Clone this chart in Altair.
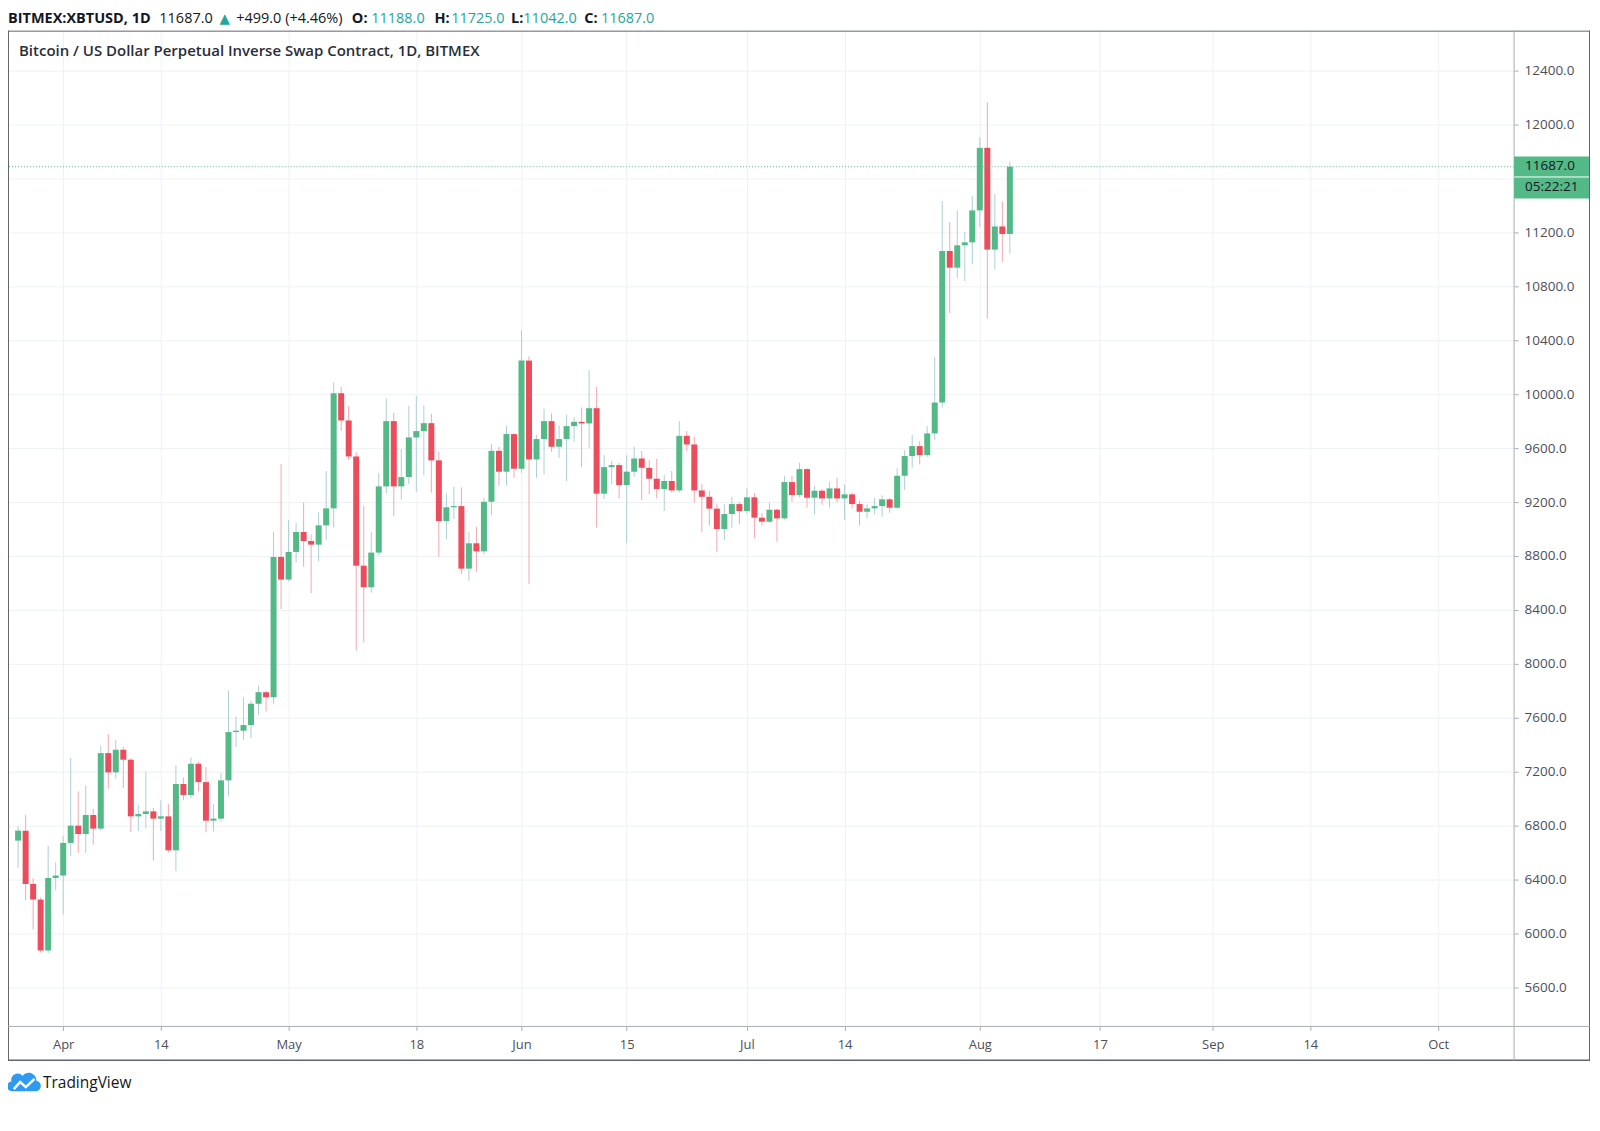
import altair as alt
import pandas as pd

# ---------------- data ----------------
start_date = "2020-03-26"

opens = [
    6689, 6763, 6368, 6252, 5874, 6412,
    6430, 6672, 6800, 6738, 6879, 6778, 7338, 7195, 7363, 7289,
    6869, 6886, 6906, 6852, 6869, 6617, 7109, 7027, 7259, 7123,
    6837, 6852, 7136, 7494, 7504, 7546, 7704, 7790, 7753, 8793,
    8625, 8830, 8978, 8911, 8884, 9027, 9153, 10007, 9805, 9538,
    8728, 8568, 8825, 9316, 9800, 9316, 9385, 9679, 9726, 9785,
    9509, 9059, 9161, 9170, 8706, 8894, 8834, 9202, 9580, 9425, 9704,
    9447, 10249, 9516, 9667, 9800, 9610, 9667, 9763, 9795, 9783,
    9896, 9262, 9459, 9474, 9326, 9425, 9523, 9454, 9373, 9296,
    9356, 9286, 9691, 9627, 9286, 9239, 9151, 9000, 9111, 9185,
    9133, 9235, 9084, 9054, 9143, 9079, 9348, 9252, 9444, 9232,
    9284, 9227, 9301, 9227, 9257, 9185, 9128, 9153, 9170, 9220,
    9158, 9395, 9541, 9615, 9548, 9709, 9938, 11062, 10938, 11104, 11126,
    11363, 11827, 11072, 11244, 11188,
]
closes = [
    6763, 6368, 6252, 5874, 6412, 6430,
    6672, 6800, 6738, 6879, 6778, 7338, 7195, 7363, 7289, 6869,
    6886, 6906, 6852, 6869, 6617, 7109, 7027, 7259, 7123, 6837,
    6852, 7136, 7494, 7504, 7546, 7704, 7790, 7753, 8793, 8625,
    8830, 8978, 8911, 8884, 9027, 9153, 10007, 9805, 9538, 8728,
    8568, 8825, 9316, 9800, 9316, 9385, 9679, 9726, 9785, 9509,
    9059, 9161, 9170, 8706, 8894, 8834, 9202, 9580, 9425, 9704, 9447,
    10249, 9516, 9667, 9800, 9610, 9667, 9763, 9795, 9783, 9896,
    9262, 9459, 9474, 9326, 9425, 9523, 9454, 9373, 9296, 9356,
    9286, 9691, 9627, 9286, 9239, 9151, 9000, 9111, 9185, 9133,
    9235, 9084, 9054, 9143, 9079, 9348, 9252, 9444, 9232, 9284,
    9227, 9301, 9227, 9257, 9185, 9128, 9153, 9170, 9220, 9158,
    9395, 9541, 9615, 9548, 9709, 9938, 11062, 10938, 11104, 11126, 11363,
    11827, 11072, 11244, 11188, 11687,
]
highs = [
    6795, 6881, 6410, 6270, 6652, 6528,
    6726, 7301, 7054, 7099, 6923, 7393, 7479, 7437, 7385, 7301,
    6956, 7202, 6930, 6988, 6960, 7247, 7158, 7306, 7275, 7235,
    6960, 7190, 7802, 7610, 7751, 7727, 7839, 7800, 8980, 9481,
    9067, 9045, 9198, 8960, 9124, 9430, 10086, 10054, 9911, 9570,
    9170, 8978, 9417, 9970, 9862, 9593, 9914, 9985, 9914, 9854,
    9573, 9264, 9314, 9309, 8980, 9017, 9232, 9630, 9610, 9763, 9710,
    10474, 10280, 9697, 9894, 9857, 9768, 9849, 9830, 9901, 10178,
    10054, 9548, 9504, 9490, 9548, 9610, 9578, 9510, 9520, 9400,
    9430, 9800, 9726, 9685, 9336, 9284, 9188, 9185, 9237, 9200,
    9301, 9267, 9120, 9195, 9150, 9393, 9395, 9491, 9450, 9320,
    9295, 9351, 9380, 9330, 9270, 9210, 9183, 9230, 9250, 9232,
    9449, 9585, 9696, 9652, 9763, 10276, 11432, 11277, 11363, 11202, 11469,
    11906, 12165, 11486, 11430, 11725,
]
lows = [
    6486, 6247, 6030, 5860, 5855, 6321,
    6141, 6573, 6598, 6598, 6659, 6765, 7074, 7148, 7079, 6753,
    6760, 6778, 6541, 6760, 6600, 6462, 6988, 7005, 7054, 6751,
    6758, 6830, 7022, 7383, 7437, 7450, 7623, 7647, 7701, 8407,
    8610, 8750, 8721, 8523, 8760, 8920, 9012, 9728, 9511, 8099,
    8158, 8528, 8805, 9264, 9099, 9217, 9333, 9277, 9398, 9269,
    8795, 8923, 9074, 8667, 8617, 8684, 8810, 9104, 9321, 9321, 9380,
    9417, 8593, 9380, 9405, 9573, 9528, 9356, 9647, 9462, 9602,
    9010, 9222, 9331, 9227, 8894, 9388, 9215, 9257, 9227, 9133,
    9270, 9270, 9578, 9195, 8975, 9025, 8830, 8919, 9010, 9035,
    9115, 8931, 9025, 9045, 8906, 9070, 9202, 9235, 9158, 9109,
    9180, 9158, 9200, 9067, 9153, 9025, 9080, 9108, 9091, 9121,
    9150, 9289, 9454, 9479, 9535, 9659, 9900, 10602, 10862, 10839, 10963,
    11240, 10561, 10926, 10980, 11042,
]

tick_dates = ["2020-04-01", "2020-04-14", "2020-05-01", "2020-05-18", "2020-06-01",
              "2020-06-15", "2020-07-01", "2020-07-14", "2020-08-01", "2020-08-17",
              "2020-09-01", "2020-09-14", "2020-10-01"]
tick_labels = ["Apr", "14", "May", "18", "Jun", "15", "Jul", "14", "Aug", "17",
               "Sep", "14", "Oct"]
y_ticks = [5600, 6000, 6400, 6800, 7200, 7600, 8000, 8400, 8800, 9200, 9600,
           10000, 10400, 10800, 11200, 11600, 12000, 12400]

symbol_text = "BITMEX:XBTUSD, 1D"
last_text = "11687.0"
change_text = "+499.0 (+4.46%)"
ohlc_labels = ["O:", "H:", "L:", "C:"]
ohlc_values = ["11188.0", "11725.0", "11042.0", "11687.0"]
title_text = "Bitcoin / US Dollar Perpetual Inverse Swap Contract, 1D, BITMEX"
countdown_text = "05:22:21"

# ---------------- build ----------------
dates = pd.date_range(start_date, periods=len(opens), freq="D").strftime("%Y-%m-%d").tolist()
df = pd.DataFrame({"date": dates, "open": opens, "high": highs, "low": lows, "close": closes})

FONT = "Open Sans"
UP, DOWN = "#53b987", "#eb4d5c"
UP_WICK, DOWN_WICK = "#acd0d5", "#f5a7b0"
TEAL = "#26a69a"
TXT = "#131722"
AXIS_TXT = "#4c4f58"
GRID = "#edf1f5"
FRAME = "#62656e"
AXLINE = "#a9acb4"

W, H = 1508, 997

tick_ms = [int(pd.Timestamp(d, tz="UTC").value // 10**6) for d in tick_dates]
x_label_expr = "".join(f"time(datum.value) == {ms} ? '{lab}' : " for ms, lab in zip(tick_ms, tick_labels)) + "''"

x_scale = alt.Scale(
    type="utc",
    domain=[alt.DateTime(year=2020, month=3, date=25, hours=7, minutes=38, utc=True),
            alt.DateTime(year=2020, month=10, date=10, hours=10, minutes=48, utc=True)],
)
y_scale = alt.Scale(domain=[5311, 12696], nice=False, zero=False)

x_axis = alt.Axis(values=tick_ms, labelExpr=x_label_expr, grid=True, gridColor=GRID,
                  domain=False, ticks=True, tickSize=4, tickColor=AXLINE, labelPadding=8,
                  labelFontSize=13, labelColor=AXIS_TXT, labelFont=FONT, title=None,
                  labelOverlap=False, labelFlush=False)
y_axis = alt.Axis(orient="right", values=y_ticks,
                  labelExpr="datum.value == 11600 ? '' : format(datum.value, '.1f')",
                  grid=True, gridColor=GRID, domain=False, ticks=True, tickSize=4,
                  tickColor=AXLINE, labelPadding=6, labelFontSize=13.5, labelColor=AXIS_TXT,
                  labelFont=FONT, title=None, labelOverlap=False, labelFlush=False)

X = alt.X("date:T", scale=x_scale, axis=x_axis)
is_up = "datum.close >= datum.open"

base = alt.Chart(df)
wicks = base.mark_rule(strokeWidth=1).encode(
    x=X,
    y=alt.Y("low:Q", scale=y_scale, axis=y_axis),
    y2="high:Q",
    color=alt.condition(is_up, alt.value(UP_WICK), alt.value(DOWN_WICK)),
)
bodies = base.mark_bar(size=6, strokeWidth=0).encode(
    x=X,
    y=alt.Y("open:Q", scale=y_scale, axis=y_axis),
    y2="close:Q",
    color=alt.condition(is_up, alt.value(UP), alt.value(DOWN)),
)
last_df = pd.DataFrame({"close": [closes[-1]]})
price_line = alt.Chart(last_df).mark_rule(color=UP, strokeDash=[1, 2], strokeWidth=1).encode(
    y=alt.Y("close:Q", scale=y_scale, axis=y_axis)
)

one = alt.Data(values=[{}])


def txt(s, x, y, size=15, color=TXT, weight="normal", align="left", font=FONT):
    return alt.Chart(one).mark_text(text=s, align=align, baseline="middle", fontSize=size,
                                    font=font, fontWeight=weight, color=color).encode(
        x=alt.value(x), y=alt.value(y))


def rule(x1, y1, x2, y2, color, width=1):
    return alt.Chart(one).mark_rule(color=color, strokeWidth=width).encode(
        x=alt.value(x1), y=alt.value(y1), x2=alt.value(x2), y2=alt.value(y2))


HY = -12
HS = 14.5
header = [
    txt(symbol_text, 0, HY, size=HS, weight="bold"),
    txt(last_text, 151.5, HY, size=HS),
    txt("\u25b2", 217, HY, size=13.5, color=TEAL, align="center", font="DejaVu Sans"),
    txt(change_text, 228.5, HY, size=HS),
]
for lab, val, xl, xv in zip(ohlc_labels, ohlc_values, [344.3, 427, 503.7, 577], [363.7, 443.7, 516, 593.7]):
    header.append(txt(lab, xl, HY, size=HS, weight="bold"))
    header.append(txt(val, xv, HY, size=HS, color=TEAL))

title = txt(title_text, 11, 20.5, size=15, weight=600, color="#2a2e39")

frame = [
    rule(0, 0.5, 1584, 0.5, FRAME),
    rule(0.5, 0, 0.5, 1031, FRAME),
    rule(1583.5, 0, 1583.5, 1031, FRAME),
    rule(0, 1031, 1584, 1031, FRAME, 1.5),
    rule(1508, 0, 1508, 1031, AXLINE),
    rule(0, 997, 1584, 997, AXLINE),
]

price_box = alt.Chart(one).mark_rect(color=UP).encode(
    x=alt.value(1508), x2=alt.value(1583), y=alt.value(126), y2=alt.value(168))
box_sep = rule(1508, 146.5, 1583, 146.5, "#ffffff")
box_texts = [txt(last_text, 1519, 136, size=13.5, color=TXT),
             txt(countdown_text, 1519, 157, size=13.5, color=TXT)]

cloud = alt.Chart(one).mark_point(
    shape="M -0.8 0.55 A 0.3 0.3 0 0 1 -0.85 -0.05 A 0.4 0.4 0 0 1 -0.15 -0.4 "
          "A 0.48 0.48 0 0 1 0.72 -0.1 A 0.33 0.33 0 0 1 0.72 0.55 Z",
    filled=True, color="#2f9bf0", opacity=1, size=1024).encode(x=alt.value(17), y=alt.value(1053))
zig = alt.Chart(one).mark_point(
    shape="M -0.7 0.42 L -0.3 -0.02 L 0.05 0.3 L 0.6 -0.22",
    filled=False, color="#ffffff", strokeWidth=2.5, opacity=1, size=1024).encode(
    x=alt.value(17), y=alt.value(1053))
logo_text = txt("TradingView", 35, 1054, size=15.5, color=TXT)

chart = alt.layer(
    wicks, bodies, price_line, *frame, price_box, box_sep, *box_texts,
    title, *header, cloud, zig, logo_text,
).properties(
    width=W, height=H,
    autosize=alt.AutoSizeParams(type="none"),
    padding={"left": 0, "top": 22, "right": 78, "bottom": 80},
    background="white",
).configure_view(stroke=None)

chart.save("out.html", embed_options={"renderer": "svg", "actions": False})
